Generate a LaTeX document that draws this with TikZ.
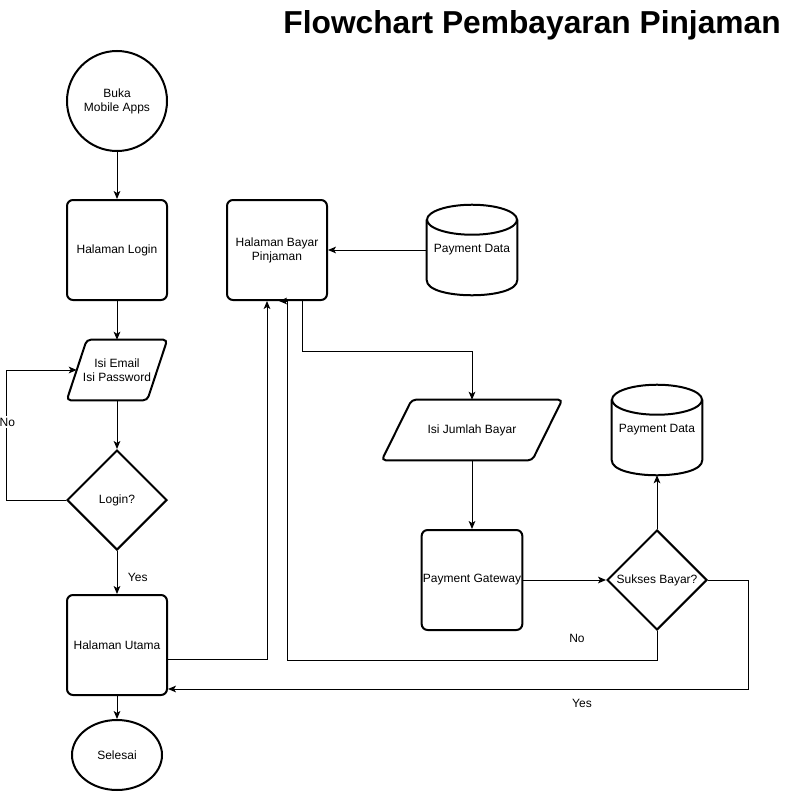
\documentclass[tikz,border=0pt]{standalone}
\usepackage{fontspec}
\setmainfont{Liberation Sans}
\usetikzlibrary{shapes.geometric, arrows.meta, positioning, calc}
\tikzstyle{startstop} = [circle, minimum size=75pt, draw=black, line width=1.5pt, align=center, inner sep=1pt]
\tikzstyle{process} = [rectangle, rounded corners=4.5pt, minimum width=75pt, minimum height=75pt, text centered, align=center, draw=black, line width=1.5pt, inner sep=1pt]
\tikzstyle{iobox} = [rectangle, minimum height=45pt, align=center, inner sep=1pt]
\tikzstyle{decision} = [diamond, minimum width=75pt, minimum height=75pt, align=center, draw=black, line width=1.5pt, inner sep=0pt]
\tikzstyle{database} = [rectangle, minimum width=67.5pt, minimum height=67.5pt, inner sep=1pt]
\tikzstyle{outline} = [draw=black, line width=1.5pt]
\tikzstyle{arrow} = [line width=0.75pt, -{Stealth[length=6pt,width=5pt,inset=1.5pt]}]

\begin{document}
\begin{tikzpicture}[x=0.75pt, y=-0.75pt, font=\fontsize{9}{10.5}\selectfont]
    \useasboundingbox (0,0) rectangle (793,792);
    % Title
    \node (title) [anchor=base east, inner sep=0pt, font=\fontsize{23.8}{28}\selectfont\bfseries] at (781,34) {Flowchart Pembayaran Pinjaman};

    % Login column
    \node (buka) [startstop] at (117,101) {Buka\\Mobile Apps};
    \node (login) [process] at (117,250) {Halaman Login};
    \node (isidata) [iobox, minimum width=75pt] at (117,370) {Isi Email\\Isi Password};
    \node (ceklogin) [decision] at (117,500) {Login?};
    \node (utama) [process] at (117,645) {Halaman Utama};
    \node (selesai) [ellipse, minimum width=67.5pt, minimum height=52.5pt, draw=black, line width=1.5pt] at (117,755) {Selesai};

    % Payment boxes
    \node (bayar) [process] at (277,250) {Halaman Bayar\\Pinjaman};
    \node (paydata) [database] at (472,250) {Payment Data};
    \node (jumlah) [iobox, minimum width=135pt] at (472,430) {Isi Jumlah Bayar};
    \node (gateway) [process] at (472,580) {Payment Gateway};
    \node (sukses) [decision] at (657,580) {Sukses Bayar?};
    \node (paydata2) [database] at (657,430) {Payment Data};

    % Parallelograms
    \draw[outline, rounded corners=3pt] ($(isidata.north west)+(20,0)$) -- (isidata.north east) -- ($(isidata.south east)+(-20,0)$) -- (isidata.south west) -- cycle;
    \draw[outline, rounded corners=3pt] ($(jumlah.north west)+(30,0)$) -- (jumlah.north east) -- ($(jumlah.south east)+(-30,0)$) -- (jumlah.south west) -- cycle;

    % Cylinders
    \foreach \db in {paydata, paydata2} {
        \draw[outline] ($(\db.north)+(0,15)$) ellipse [x radius=45, y radius=15];
        \draw[outline] ($(\db.north west)+(0,15)$) -- ($(\db.south west)+(0,-15)$) .. controls ($(\db.south west)+(0,5)$) and ($(\db.south east)+(0,5)$) .. ($(\db.south east)+(0,-15)$) -- ($(\db.north east)+(0,15)$);
    }

    % Arrows login
    \draw[arrow] (buka) -- (login);
    \draw[arrow] (login) -- (isidata);
    \draw[arrow] (isidata) -- (ceklogin);
    \draw[arrow] (ceklogin) -- node[right, pos=0.62, xshift=4.5pt] {Yes} (utama);
    \draw[arrow] (ceklogin.west) -- ++(-60,0) |- node[pos=0.3, fill=white, inner sep=1pt, xshift=1pt] {No} ($(isidata.west)+(10,0)$);
    \draw[arrow] (utama) -- (selesai);

    % Arrows payment
    \draw[arrow] ($(utama.east)+(0,14)$) -| ($(bayar.south)+(-10,0)$);
    \draw[arrow] (paydata.west) -- (bayar.east);
    \draw[arrow] ($(bayar.south)+(25,0)$) -- ++(0,50) -| (jumlah.north);
    \draw[arrow] (jumlah) -- (gateway);
    \draw[arrow] (gateway) -- (sukses);
    \draw[arrow] (sukses) -- (paydata2);
    \draw[arrow] (sukses.south) -- ++(0,29) -| ($(bayar.south)+(10,0)$) -- ++(-8,0);
    \node (nobayar) at (577,638) {No};
    \draw[arrow] (sukses.east) -- ++(40,0) |- ($(utama.east)+(0,44)$);
    \node (yesbayar) at (582,703) {Yes};
\end{tikzpicture}
\end{document}
